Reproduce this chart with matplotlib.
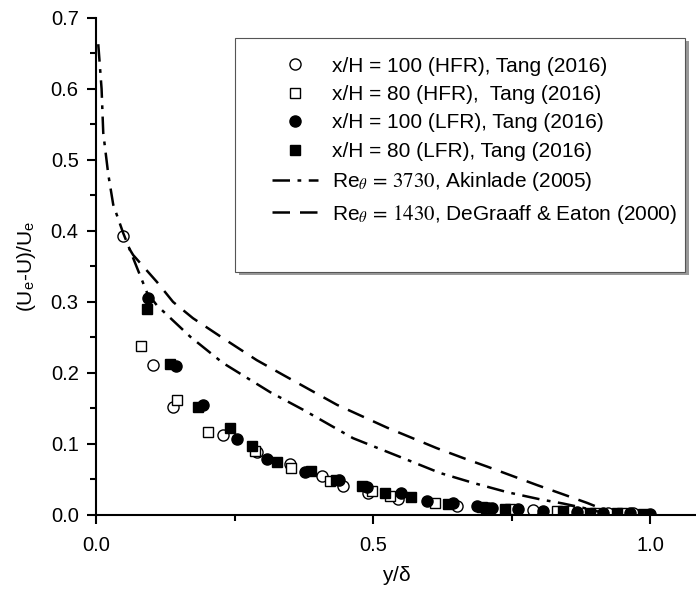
import matplotlib
matplotlib.use('Agg')
import matplotlib.pyplot as plt
from matplotlib.patches import Rectangle, Shadow
from matplotlib.ticker import MultipleLocator

plt.rcParams['font.family'] = ['Liberation Sans', 'DejaVu Sans']
plt.rcParams['mathtext.fontset'] = 'stix'

# Tang (2016) measurements
hfr100_x = [0.049, 0.103, 0.139, 0.229, 0.290, 0.350, 0.408, 0.446, 0.491, 0.545, 0.651, 0.708, 0.789, 0.855, 0.925, 0.970]
hfr100_y = [0.393, 0.211, 0.152, 0.113, 0.088, 0.072, 0.055, 0.040, 0.031, 0.023, 0.013, 0.010, 0.007, 0.005, 0.003, 0.002]

hfr80_x = [0.081, 0.146, 0.202, 0.287, 0.352, 0.422, 0.498, 0.531, 0.612, 0.704, 0.747, 0.832, 0.900, 0.950]
hfr80_y = [0.238, 0.162, 0.117, 0.090, 0.066, 0.048, 0.034, 0.027, 0.017, 0.010, 0.008, 0.005, 0.003, 0.002]

lfr100_x = [0.094, 0.144, 0.193, 0.254, 0.309, 0.377, 0.439, 0.489, 0.551, 0.597, 0.644, 0.688, 0.714, 0.762, 0.807, 0.868, 0.915, 0.964, 1.000]
lfr100_y = [0.306, 0.210, 0.155, 0.107, 0.079, 0.061, 0.049, 0.039, 0.031, 0.020, 0.017, 0.013, 0.010, 0.008, 0.006, 0.004, 0.003, 0.002, 0.001]

lfr80_x = [0.092, 0.134, 0.184, 0.242, 0.282, 0.327, 0.388, 0.433, 0.480, 0.522, 0.568, 0.635, 0.697, 0.738, 0.843, 0.892, 0.940, 0.987]
lfr80_y = [0.290, 0.213, 0.152, 0.123, 0.097, 0.075, 0.062, 0.049, 0.040, 0.031, 0.025, 0.015, 0.011, 0.008, 0.005, 0.003, 0.002, 0.001]

# reference profiles
akin_x = [0.004, 0.010, 0.013, 0.022, 0.031, 0.049, 0.074, 0.092, 0.110, 0.170, 0.229, 0.314, 0.374, 0.464, 0.554, 0.621, 0.681, 0.742, 0.801, 0.843, 0.879, 0.915]
akin_y = [0.663, 0.600, 0.538, 0.480, 0.437, 0.397, 0.348, 0.313, 0.295, 0.251, 0.214, 0.173, 0.148, 0.108, 0.080, 0.059, 0.045, 0.032, 0.022, 0.016, 0.010, 0.003]

degr_x = [0.060, 0.067, 0.110, 0.139, 0.175, 0.229, 0.290, 0.338, 0.435, 0.525, 0.615, 0.663, 0.706, 0.751, 0.796, 0.843, 0.886, 0.915]
degr_y = [0.375, 0.366, 0.328, 0.300, 0.277, 0.249, 0.218, 0.197, 0.155, 0.123, 0.094, 0.080, 0.068, 0.055, 0.042, 0.029, 0.017, 0.008]

fig = plt.figure(figsize=(6.96, 5.98), dpi=100)
ax = fig.add_axes([0.138, 0.139, 0.862, 0.831])

ms = 8
ax.plot(hfr100_x, hfr100_y, 'o', mfc='white', mec='black', mew=1, ms=ms,
        label='x/H = 100 (HFR), Tang (2016)')
ax.plot(hfr80_x, hfr80_y, 's', mfc='white', mec='black', mew=1, ms=ms - 1,
        label='x/H = 80 (HFR),  Tang (2016)')
ax.plot(lfr100_x, lfr100_y, 'o', mfc='black', mec='black', ms=ms,
        label='x/H = 100 (LFR), Tang (2016)')
ax.plot(lfr80_x, lfr80_y, 's', mfc='black', mec='black', ms=ms - 1,
        label='x/H = 80 (LFR), Tang (2016)')
ax.plot(akin_x, akin_y, color='black', lw=1.8, dashes=(7, 3, 1.5, 3),
        label=r'Re$_\theta$$\,=\,3730$, Akinlade (2005)')
ax.plot(degr_x, degr_y, color='black', lw=1.8, dashes=(7, 4),
        label=r'Re$_\theta$$\,=\,1430$, DeGraaff & Eaton (2000)')

ax.set_xlim(0, 1.083)
ax.set_ylim(0, 0.7)
ax.xaxis.set_major_locator(MultipleLocator(0.5))
ax.xaxis.set_minor_locator(MultipleLocator(0.25))
ax.yaxis.set_major_locator(MultipleLocator(0.1))
ax.yaxis.set_minor_locator(MultipleLocator(0.05))
ax.xaxis.set_major_formatter(plt.FormatStrFormatter('%.1f'))
ax.yaxis.set_major_formatter(plt.FormatStrFormatter('%.1f'))
ax.tick_params(which='major', direction='out', length=6.5, width=1.5, labelsize=14.5)
ax.tick_params(axis='x', which='major', pad=9)
ax.tick_params(axis='y', which='major', pad=6)
ax.tick_params(which='minor', direction='out', length=4, width=1.5)
for s in ['top', 'right']:
    ax.spines[s].set_visible(False)
for s in ['left', 'bottom']:
    ax.spines[s].set_linewidth(1.5)

ax.set_xlabel(r'y/$\mathregular{\delta}$', fontsize=15, labelpad=6)
ax.set_ylabel(r'(U$_\mathregular{e}$-U)/U$_\mathregular{e}$', fontsize=15, labelpad=9)

# legend box drawn separately so it can sit exactly where it is in the figure
box = Rectangle((0.232, 0.489), 0.75, 0.471, transform=ax.transAxes,
                facecolor='white', edgecolor='#555555', lw=0.8, zorder=5)
shadow = Shadow(box, 0.004, -0.005, facecolor='#999999', edgecolor='none', alpha=1, zorder=4.9)
ax.add_patch(shadow)
ax.add_patch(box)

leg = ax.legend(loc='upper left', bbox_to_anchor=(0.293, 0.922), fontsize=15,
                frameon=False, borderpad=0, borderaxespad=0,
                handlelength=2.2, labelspacing=0.45, handletextpad=0.7)
leg.set_zorder(6)

fig.savefig('out.png', dpi=100)
